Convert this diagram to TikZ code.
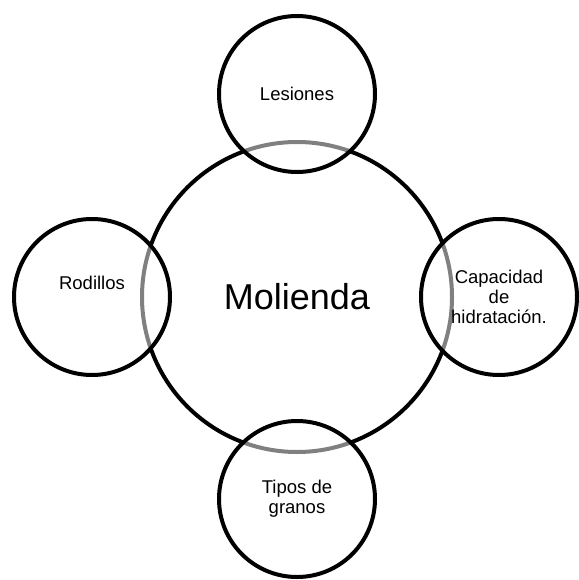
\documentclass[tikz,border=0pt]{standalone}
\usepackage{fontspec}
\setmainfont{Liberation Sans}
\begin{document}
\begin{tikzpicture}[x=1pt,y=-1pt,
  big/.style={circle, draw=black, line width=4pt, minimum size=310pt, inner sep=0pt, font=\fontsize{36}{43}\selectfont},
  small/.style={circle, draw=black, line width=4pt, fill=white, fill opacity=0.5, text opacity=1, minimum size=156pt, inner sep=0pt, font=\fontsize{18.5}{20}\selectfont, align=center}]
\useasboundingbox (0,0) rectangle (578,580);
\node[big] (mol) at (297,297) {Molienda};
\node[small] (les) at (297,94) {Lesiones};
\node[small, label={[font=\fontsize{18.5}{20}\selectfont, yshift=14pt]center:Rodillos}] (rod) at (92,297) {};
\node[small] (cap) at (499,297) {Capacidad\\de\\hidratación.};
\node[small] (tip) at (297,499) {Tipos de\\granos};
\end{tikzpicture}
\end{document}
